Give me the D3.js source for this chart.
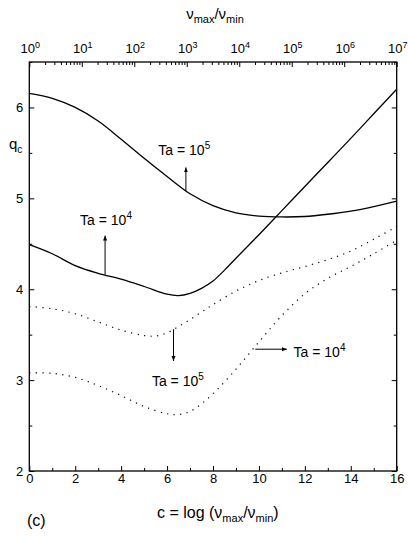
<!DOCTYPE html>
<html>
<head>
<meta charset="utf-8">
<script src="https://cdn.jsdelivr.net/npm/d3@7"></script>
<style>
  body { margin: 0; background: #fff; }
  svg text { font-family: "Liberation Sans", Arial, Helvetica, sans-serif; fill: #000; }
</style>
</head>
<body>
<svg id="chart" width="408" height="540"></svg>
<script>
// Critical wavenumber q_c versus c = log(nu_max/nu_min)
// Solid lines: one family of solutions, dotted lines: the other family.

// Ta = 10^5, solid
const cSolid5 = [0, 1, 2, 3, 4, 5, 6, 7, 8, 9, 10, 11, 12, 13, 14, 15, 16];
const qSolid5 = [6.155, 6.10, 6.00, 5.85, 5.65, 5.44, 5.24, 5.05, 4.92, 4.84, 4.805, 4.795, 4.80, 4.825, 4.86, 4.91, 4.97];

// Ta = 10^4, solid
const cSolid4 = [0, 1, 2, 3, 4, 5, 6, 6.5, 7, 7.5, 8, 8.5, 9, 10, 11, 12, 13, 14, 15, 16];
const qSolid4 = [4.49, 4.39, 4.26, 4.175, 4.11, 4.03, 3.945, 3.93, 3.955, 4.01, 4.09, 4.21, 4.34, 4.60, 4.865, 5.13, 5.395, 5.66, 5.93, 6.20];

// Ta = 10^5, dotted
const cDot5 = [0, 1, 2, 3, 4, 5, 5.5, 6, 6.5, 7, 7.5, 8, 9, 10, 11, 12, 13, 14, 15, 16];
const qDot5 = [3.81, 3.785, 3.73, 3.64, 3.55, 3.49, 3.485, 3.52, 3.59, 3.665, 3.75, 3.83, 3.98, 4.095, 4.18, 4.25, 4.325, 4.42, 4.55, 4.69];

// Ta = 10^4, dotted
const cDot4 = [0, 1, 2, 3, 4, 5, 6, 6.5, 7, 7.5, 8, 9, 10, 11, 12, 13, 14, 15, 16];
const qDot4 = [3.08, 3.075, 3.03, 2.94, 2.83, 2.71, 2.63, 2.62, 2.655, 2.74, 2.85, 3.12, 3.42, 3.71, 3.95, 4.12, 4.25, 4.39, 4.54];

// Axis ticks
const xMajor = [0, 2, 4, 6, 8, 10, 12, 14, 16];
const xMinor = [1, 3, 5, 7, 9, 11, 13, 15];
const yMajor = [2, 3, 4, 5, 6];
const yMinor = [2.5, 3.5, 4.5, 5.5, 6.5];
const topExponents = [0, 1, 2, 3, 4, 5, 6, 7];

// Annotation arrows, in data units: arrow base (c, q) -> arrow tip (c, q), label exponent
const notes = [
  { c0: 6.82, q0: 5.08, c1: 6.82, q1: 5.34, exp: "5", lc: 5.62, lq: 5.48 },
  { c0: 3.30, q0: 4.16, c1: 3.30, q1: 4.59, exp: "4", lc: 2.21, lq: 4.71 },
  { c0: 6.28, q0: 3.56, c1: 6.28, q1: 3.21, exp: "5", lc: 5.34, lq: 2.94 },
  { c0: 9.84, q0: 3.34, c1: 11.22, q1: 3.34, exp: "4", lc: 11.51, lq: 3.25 }
];

const svg = d3.select("#chart");
const x = d3.scaleLinear().domain([0, 16]).range([29.3, 396.7]);
const y = d3.scaleLinear().domain([2, 6.5]).range([471, 62]);
const xTop = d3.scaleLog().domain([1, 1e7]).range([29.3, 396.7]);

// arrowhead
svg.append("defs").append("marker")
  .attr("id", "head").attr("viewBox", "0 0 10 10")
  .attr("refX", 10).attr("refY", 5)
  .attr("markerWidth", 5).attr("markerHeight", 5)
  .attr("markerUnits", "userSpaceOnUse")
  .attr("orient", "auto")
  .append("path").attr("d", "M0,1 L10,5 L0,9 Z").attr("fill", "#000");

function styleAxis(g) {
  g.select(".domain").remove();
  g.selectAll(".tick line").attr("stroke", "#000").attr("stroke-width", 1);
  g.selectAll("text").attr("font-size", 13).attr("fill", "#000")
    .attr("font-family", "'Liberation Sans', Arial, sans-serif");
}

// bottom axis
svg.append("g").attr("transform", "translate(0,471)")
  .call(d3.axisBottom(x).tickValues(xMajor).tickSize(-5).tickPadding(3).tickFormat(d3.format("d")))
  .call(styleAxis);
svg.append("g").attr("transform", "translate(0,471)")
  .call(d3.axisBottom(x).tickValues(xMinor).tickSize(-3).tickFormat(""))
  .call(styleAxis);

// left axis
svg.append("g").attr("transform", "translate(29.3,0)")
  .call(d3.axisLeft(y).tickValues(yMajor).tickSize(-5).tickPadding(6).tickFormat(d3.format("d")))
  .call(styleAxis);
svg.append("g").attr("transform", "translate(29.3,0)")
  .call(d3.axisLeft(y).tickValues(yMinor).tickSize(-3).tickFormat(""))
  .call(styleAxis);

// right axis (ticks only)
svg.append("g").attr("transform", "translate(396.7,0)")
  .call(d3.axisRight(y).tickValues(yMajor).tickSize(-5).tickFormat(""))
  .call(styleAxis);
svg.append("g").attr("transform", "translate(396.7,0)")
  .call(d3.axisRight(y).tickValues(yMinor).tickSize(-3).tickFormat(""))
  .call(styleAxis);

// top log axis
const topMajor = topExponents.map(e => Math.pow(10, e));
const topMinor = [];
topExponents.slice(0, -1).forEach(e => { for (let k = 2; k <= 9; k++) topMinor.push(k * Math.pow(10, e)); });
svg.append("g").attr("transform", "translate(0,62)")
  .call(d3.axisTop(xTop).tickValues(topMajor).tickSize(-5).tickFormat(""))
  .call(styleAxis);
svg.append("g").attr("transform", "translate(0,62)")
  .call(d3.axisTop(xTop).tickValues(topMinor).tickSize(-3).tickFormat(""))
  .call(styleAxis);
const topLab = svg.append("g").selectAll("text").data(topExponents).join("text")
  .attr("x", e => xTop(Math.pow(10, e)) + 1)
  .attr("y", 53)
  .attr("text-anchor", "middle")
  .attr("font-size", 13);
topLab.append("tspan").text("10");
topLab.append("tspan").attr("font-size", 9).attr("dy", -5).text(e => e);

// frame
svg.append("rect")
  .attr("x", x(0)).attr("y", y(6.5))
  .attr("width", x(16) - x(0)).attr("height", y(2) - y(6.5))
  .attr("fill", "none").attr("stroke", "#000").attr("stroke-width", 1.3);

// curves
const line = d3.line().x(d => x(d[0])).y(d => y(d[1])).curve(d3.curveCatmullRom.alpha(0.5));
const zip = (a, b) => a.map((v, i) => [v, b[i]]);
const plot = svg.append("g").attr("fill", "none").attr("stroke", "#000");
plot.append("path").attr("d", line(zip(cSolid5, qSolid5))).attr("stroke-width", 1.3);
plot.append("path").attr("d", line(zip(cSolid4, qSolid4))).attr("stroke-width", 1.3);
plot.append("path").attr("d", line(zip(cDot5, qDot5))).attr("stroke-width", 1.2)
  .attr("stroke-dasharray", "1.2 5.4");
plot.append("path").attr("d", line(zip(cDot4, qDot4))).attr("stroke-width", 1.2)
  .attr("stroke-dasharray", "1.2 5.4");

// annotations
const ann = svg.append("g");
notes.forEach(n => {
  ann.append("line")
    .attr("x1", x(n.c0)).attr("y1", y(n.q0))
    .attr("x2", x(n.c1)).attr("y2", y(n.q1))
    .attr("stroke", "#000").attr("stroke-width", 1)
    .attr("marker-end", "url(#head)");
  const t = ann.append("text").attr("x", x(n.lc)).attr("y", y(n.lq)).attr("font-size", 14);
  t.append("tspan").text("Ta = 10");
  t.append("tspan").attr("font-size", 10).attr("dy", -6).text(n.exp);
});

// axis titles
const qt = svg.append("text").attr("x", 9).attr("y", 149).attr("font-size", 15);
qt.append("tspan").text("q");
qt.append("tspan").attr("font-size", 10).attr("dy", 4).text("c");

const tt = svg.append("text").attr("x", 215).attr("y", 19).attr("text-anchor", "middle").attr("font-size", 15);
tt.append("tspan").text("ν");
tt.append("tspan").attr("font-size", 11).attr("dy", 4).text("max");
tt.append("tspan").attr("dy", -4).text("/ν");
tt.append("tspan").attr("font-size", 11).attr("dy", 4).text("min");

const bt = svg.append("text").attr("x", 157).attr("y", 518).attr("font-size", 16);
bt.append("tspan").text("c = log (ν");
bt.append("tspan").attr("font-size", 11).attr("dy", 4).text("max");
bt.append("tspan").attr("dy", -4).text("/ν");
bt.append("tspan").attr("font-size", 11).attr("dy", 4).text("min");
bt.append("tspan").attr("dy", -4).text(")");

svg.append("text").attr("x", 27).attr("y", 526).attr("font-size", 16).text("(c)");
</script>
</body>
</html>
